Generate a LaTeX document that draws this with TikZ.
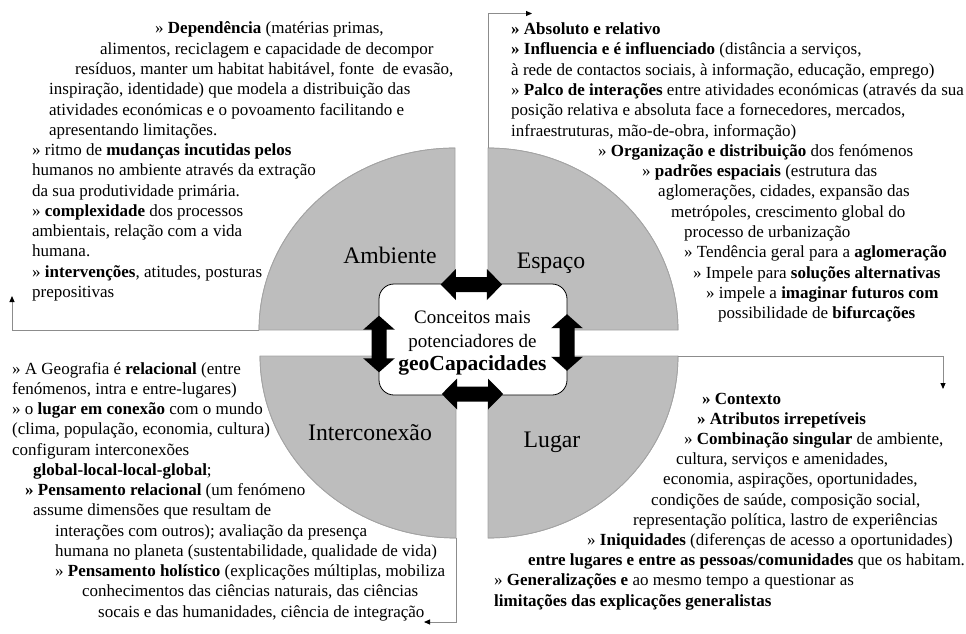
\documentclass[tikz,border=0pt]{standalone}
\usepackage{fontspec}
\setmainfont{Liberation Serif}
\usetikzlibrary{arrows.meta}
\definecolor{quadgray}{HTML}{BDBDBD}
\definecolor{edgegray}{HTML}{A3A3A3}
\definecolor{linegray}{HTML}{8C8C8C}
\tikzset{
  quad/.style={fill=quadgray, draw=edgegray, line width=0.7pt},
  conn/.style={draw=linegray, line width=0.9pt, -{Triangle[length=6pt,width=5pt,color=black]}},
  ln/.style={anchor=base west, inner sep=0pt, font=\fontsize{17}{20}\selectfont},
  lbl/.style={anchor=base, inner sep=0pt, font=\fontsize{23.7}{28}\selectfont},
  ctxt/.style={anchor=base, inner sep=0pt, font=\fontsize{19}{22}\selectfont},
  cbold/.style={anchor=base, inner sep=0pt, font=\fontsize{21.5}{24}\selectfont\bfseries},
  centerbox/.style={draw=black, fill=white, rounded corners=15pt, line width=0.8pt, inner sep=0pt},
  harrow/.pic={\fill[black] (-30.7,0) -- (-15.5,-15.5) -- (-15.5,-7.5) -- (15.5,-7.5) -- (15.5,-15.5) -- (30.7,0) -- (15.5,15.5) -- (15.5,7.5) -- (-15.5,7.5) -- (-15.5,15.5) -- cycle;},
  varrow/.pic={\fill[black] (0,-28.3) -- (-15.8,-14.3) -- (-7.5,-14.3) -- (-7.5,14.3) -- (-15.8,14.3) -- (0,28.3) -- (15.8,14.3) -- (7.5,14.3) -- (7.5,-14.3) -- (15.8,-14.3) -- cycle;}
}
\begin{document}
\begin{tikzpicture}[x=1pt,y=-1pt]
\useasboundingbox (0,0) rectangle (966,634);

% quadrants
\fill[quad] (455,330) -- (259,330) arc[start angle=180, end angle=270, x radius=196, y radius=182] -- cycle;
\fill[quad] (488,330) -- (488,148) arc[start angle=270, end angle=360, x radius=190, y radius=182] -- cycle;
\fill[quad] (488,356) -- (678,356) arc[start angle=0, end angle=90, x radius=190, y radius=182] -- cycle;
\fill[quad] (456,356) -- (456,538) arc[start angle=90, end angle=180, x radius=196, y radius=182] -- cycle;
\draw[draw=edgegray, line width=0.7pt] (259,330) arc[start angle=180, end angle=270, x radius=196, y radius=182];
\draw[draw=edgegray, line width=0.7pt] (488,148) arc[start angle=270, end angle=360, x radius=190, y radius=182];
\draw[draw=edgegray, line width=0.7pt] (678,356) arc[start angle=0, end angle=90, x radius=190, y radius=182];
\draw[draw=edgegray, line width=0.7pt] (456,538) arc[start angle=90, end angle=180, x radius=196, y radius=182];

% connector coordinates
\coordinate (ambS) at (259,330);
\coordinate (ambT) at (12,330);
\coordinate (ambE) at (12,296);
\coordinate (espS) at (488,148);
\coordinate (espT) at (488,13.5);
\coordinate (espE) at (532,13.5);
\coordinate (lugS) at (678,356);
\coordinate (lugT) at (943,356);
\coordinate (lugE) at (943,389);
\coordinate (intS) at (456,538);
\coordinate (intT) at (456,622);
\coordinate (intE) at (424,622);
\draw[conn] (ambS) -- (ambT) -- (ambE);
\draw[conn] (espS) -- (espT) -- (espE);
\draw[conn] (lugS) -- (lugT) -- (lugE);
\draw[conn] (intS) -- (intT) -- (intE);

% quadrant labels
\node[lbl] (lamb) at (390,263) {Ambiente};
\node[lbl] (lesp) at (551,268) {Espaço};
\node[lbl] (lint) at (370,440) {Interconexão};
\node[lbl] (llug) at (552,447) {Lugar};

% center
\node[centerbox, minimum width=188pt, minimum height=111pt] (center) at (473,339.5) {};
\node[ctxt] (c1) at (472.5,323) {Conceitos mais};
\node[ctxt] (c2) at (472.5,347) {potenciadores de};
\node[cbold] (c3) at (472.5,370.5) {geoCapacidades};

\pic at (471.4,284.5) {harrow};
\pic at (472.5,394) {harrow};
\pic at (379,344) {varrow};
\pic at (567,342.5) {varrow};

% top-left text
\node[ln] (tl1) at (155,34) {» \textbf{Dependência} (matérias primas,};
\node[ln] (tl2) at (100,54.25) {alimentos, reciclagem e capacidade de decompor};
\node[ln] (tl3) at (75,74.5) {resíduos, manter um habitat habitável, fonte\ \ de evasão,};
\node[ln] (tl4) at (49,94.75) {inspiração, identidade) que modela a distribuição das};
\node[ln] (tl5) at (49,115) {atividades económicas e o povoamento facilitando e};
\node[ln] (tl6) at (49,135.25) {apresentando limitações.};
\node[ln] (tl7) at (32,155.5) {» ritmo de \textbf{mudanças incutidas pelos}};
\node[ln] (tl8) at (32,175.75) {humanos no ambiente através da extração};
\node[ln] (tl9) at (32,196) {da sua produtividade primária.};
\node[ln] (tl10) at (32,216.25) {» \textbf{complexidade} dos processos};
\node[ln] (tl11) at (32,236.5) {ambientais, relação com a vida};
\node[ln] (tl12) at (32,256.75) {humana.};
\node[ln] (tl13) at (32,277) {» \textbf{intervenções}, atitudes, posturas};
\node[ln] (tl14) at (32,297.25) {prepositivas};

% top-right text
\node[ln] (tr1) at (511,34.5) {\textbf{» Absoluto e relativo}};
\node[ln] (tr2) at (511,54.8) {\textbf{» Influencia e é influenciado} (distância a serviços,};
\node[ln] (tr3) at (511,75.1) {à rede de contactos sociais, à informação, educação, emprego)};
\node[ln] (tr4) at (511,95.4) {» \textbf{Palco de interações} entre atividades económicas (através da sua};
\node[ln] (tr5) at (511,115.7) {posição relativa e absoluta face a fornecedores, mercados,};
\node[ln] (tr6) at (511,136) {infraestruturas, mão-de-obra, informação)};
\node[ln] (tr7) at (598,156.3) {» \textbf{Organização e distribuição} dos fenómenos};
\node[ln] (tr8) at (642,176.6) {» \textbf{padrões espaciais} (estrutura das};
\node[ln] (tr9) at (658,196.9) {aglomerações, cidades, expansão das};
\node[ln] (tr10) at (671,217.2) {metrópoles, crescimento global do};
\node[ln] (tr11) at (684,237.5) {processo de urbanização};
\node[ln] (tr12) at (684,257.8) {» Tendência geral para a \textbf{aglomeração}};
\node[ln] (tr13) at (693,278.1) {» Impele para \textbf{soluções alternativas}};
\node[ln] (tr14) at (706,298.4) {» impele a \textbf{imaginar futuros com}};
\node[ln] (tr15) at (718,318.7) {possibilidade de \textbf{bifurcações}};

% bottom-left text
\node[ln] (bl1) at (12,374) {» A Geografia é \textbf{relacional} (entre};
\node[ln] (bl2) at (12,394.25) {fenómenos, intra e entre-lugares)};
\node[ln] (bl3) at (12,414.5) {» o \textbf{lugar em conexão} com o mundo};
\node[ln] (bl4) at (12,434.75) {(clima, população, economia, cultura)};
\node[ln] (bl5) at (12,455) {configuram interconexões};
\node[ln] (bl6) at (33,475.25) {\textbf{global-local-local-global};};
\node[ln] (bl7) at (25,495.5) {\textbf{» Pensamento relacional} (um fenómeno};
\node[ln] (bl8) at (33,515.75) {assume dimensões que resultam de};
\node[ln] (bl9) at (55,536) {interações com outros); avaliação da presença};
\node[ln] (bl10) at (55,556.25) {humana no planeta (sustentabilidade, qualidade de vida)};
\node[ln] (bl11) at (55,576.5) {» \textbf{Pensamento holístico} (explicações múltiplas, mobiliza};
\node[ln] (bl12) at (82,596.75) {conhecimentos das ciências naturais, das ciências};
\node[ln] (bl13) at (98,617) {socais e das humanidades, ciência de integração};

% bottom-right text
\node[ln] (br1) at (702,404) {\textbf{» Contexto}};
\node[ln] (br2) at (697,424.2) {\textbf{» Atributos irrepetíveis}};
\node[ln] (br3) at (684,444.4) {» \textbf{Combinação singular} de ambiente,};
\node[ln] (br4) at (676,464.6) {cultura, serviços e amenidades,};
\node[ln] (br5) at (663,484.8) {economia, aspirações, oportunidades,};
\node[ln] (br6) at (651,505) {condições de saúde, composição social,};
\node[ln] (br7) at (633,525.2) {representação política, lastro de experiências};
\node[ln] (br8) at (587,545.4) {» \textbf{Iniquidades} (diferenças de acesso a oportunidades)};
\node[ln] (br9) at (528,565.6) {\textbf{entre lugares e entre as pessoas/comunidades} que os habitam.};
\node[ln] (br10) at (494,585.8) {» \textbf{Generalizações e} ao mesmo tempo a questionar as};
\node[ln] (br11) at (494,606) {\textbf{limitações das explicações generalistas}};
\end{tikzpicture}
\end{document}
